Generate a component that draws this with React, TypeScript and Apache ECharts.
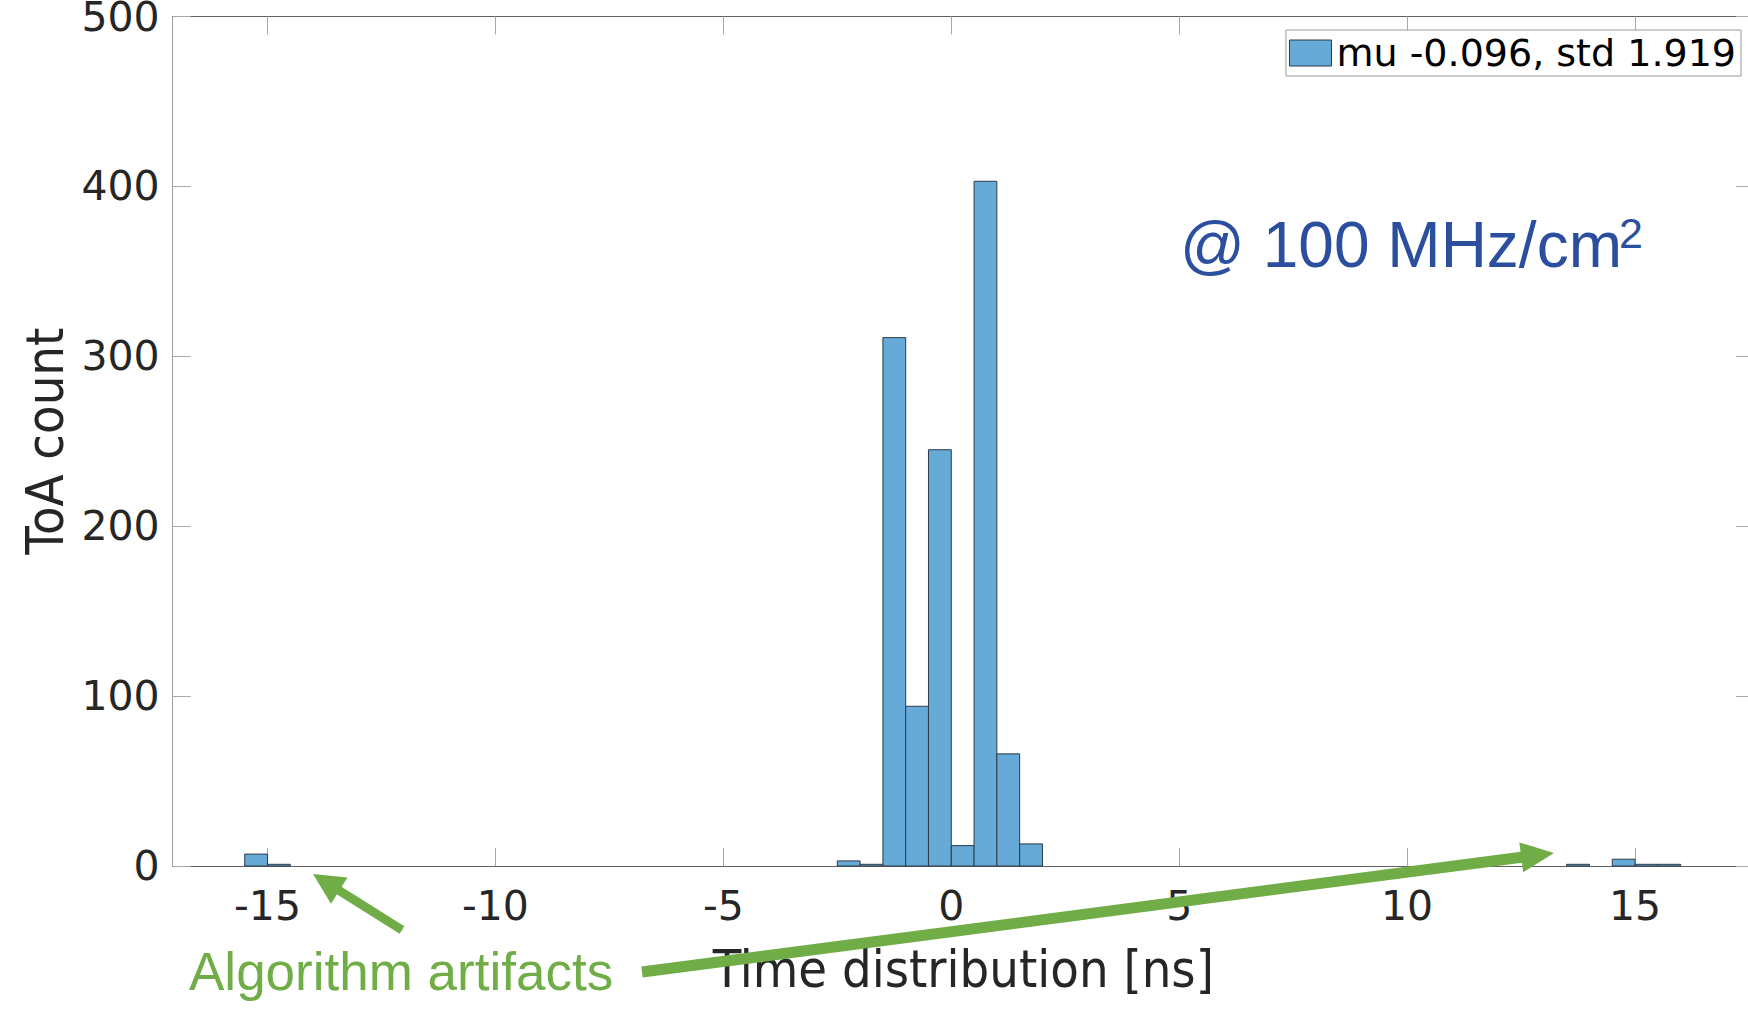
import React, { useEffect, useRef } from "react";
import * as echarts from "echarts";

// ---- data ----
const BIN_WIDTH = 0.5;
const binStarts = [-15.5, -15, -2.5, -2, -1.5, -1, -0.5, 0, 0.5, 1, 1.5, 13.5, 14.5, 15, 15.5];
const counts = [7, 1, 3, 1, 311, 94, 245, 12, 403, 66, 13, 1, 4, 1, 1];
const xTicks = [-15, -10, -5, 0, 5, 10, 15];
const yTicks = [0, 100, 200, 300, 400, 500];
const X_MIN = -17.08;
const X_MAX = 17.61;
const LEGEND_NAME = "mu -0.096, std 1.919";
const X_TITLE = "Time distribution [ns]";
const Y_TITLE = "ToA count";
const RATE_TEXT = "@ 100 MHz/cm";
const RATE_SUP = "2";
const ARTIFACT_TEXT = "Algorithm artifacts";

const BAR_FILL = "#66AAD7";
const BAR_EDGE = "#2e3b48";
const GREEN = "#70AD47";
const BLUE = "#2B4F9E";
const TICK_FONT = "'DejaVu Sans', sans-serif";
const TITLE_FONT = "'DejaVu Sans Condensed', 'DejaVu Sans', sans-serif";
const ARIAL = "'Liberation Sans', Arial, sans-serif";

function arrow(tail: number[], tip: number[], shaft: number, headLen: number, headW: number) {
  const dx = tip[0] - tail[0];
  const dy = tip[1] - tail[1];
  const len = Math.sqrt(dx * dx + dy * dy);
  const ux = dx / len, uy = dy / len;
  const nx = -uy, ny = ux;
  const bx = tip[0] - headLen * ux, by = tip[1] - headLen * uy;
  return [
    {
      type: "line",
      z: 100,
      shape: { x1: tail[0], y1: tail[1], x2: bx + ux * 2, y2: by + uy * 2 },
      style: { stroke: GREEN, lineWidth: shaft, lineCap: "butt" },
    },
    {
      type: "polygon",
      z: 100,
      shape: {
        points: [
          [tip[0], tip[1]],
          [bx + nx * headW / 2, by + ny * headW / 2],
          [bx - nx * headW / 2, by - ny * headW / 2],
        ],
      },
      style: { fill: GREEN },
    },
  ];
}

export default function App() {
  const ref = useRef<HTMLDivElement>(null);
  useEffect(() => {
    if (!ref.current) return;
    const chart = echarts.init(ref.current, null, { renderer: "svg" });
    const axisLineDark = { color: "#606060", width: 1 };
    const axisLineLight = { color: "#a0a0a0", width: 1 };
    const tickStyle = { color: "#a8a8a8", width: 1 };
    const option: any = {
      animation: false,
      backgroundColor: "#ffffff",
      grid: {
        left: 172.7,
        right: -6,
        top: 16.5,
        bottom: 149,
        containLabel: false,
        outerBoundsMode: "none",
      },
      legend: {
        show: true,
        data: [
          {
            name: LEGEND_NAME,
            icon: "rect",
            itemStyle: { color: BAR_FILL, borderColor: BAR_EDGE, borderWidth: 1 },
          },
        ],
        right: 7,
        top: 30,
        itemWidth: 42,
        itemHeight: 26,
        padding: [4, 5, 4, 3],
        borderColor: "#9a9a9a",
        borderWidth: 1,
        borderRadius: 0,
        backgroundColor: "#ffffff",
        selectedMode: false,
        textStyle: { fontSize: 38, fontFamily: TICK_FONT, color: "#000000", lineHeight: 26, height: 26 },
      },
      xAxis: [
        {
          type: "value",
          position: "bottom",
          min: X_MIN,
          max: X_MAX,
          axisLine: { show: true, onZero: false, lineStyle: axisLineDark },
          axisTick: { show: true, inside: true, length: 18, customValues: xTicks, lineStyle: tickStyle },
          axisLabel: {
            show: true,
            customValues: xTicks,
            margin: 19,
            fontSize: 41,
            fontFamily: TICK_FONT,
            color: "#262626",
          },
          splitLine: { show: false },
          name: X_TITLE,
          nameLocation: "middle",
          nameGap: 77,
          nameTextStyle: { fontSize: 52, fontFamily: TITLE_FONT, color: "#262626", lineHeight: 52 },
        },
        {
          type: "value",
          position: "top",
          min: X_MIN,
          max: X_MAX,
          axisLine: { show: true, onZero: false, lineStyle: axisLineDark },
          axisTick: { show: true, inside: true, length: 18, customValues: xTicks, lineStyle: tickStyle },
          axisLabel: { show: false, customValues: xTicks },
          splitLine: { show: false },
        },
      ],
      yAxis: [
        {
          type: "value",
          position: "left",
          min: 0,
          max: 500,
          interval: 100,
          axisLine: { show: true, onZero: false, lineStyle: axisLineLight },
          axisTick: { show: true, inside: true, length: 18, lineStyle: tickStyle },
          axisLabel: {
            show: true,
            margin: 13,
            fontSize: 41,
            fontFamily: TICK_FONT,
            color: "#262626",
            formatter: (v: number) => (yTicks.indexOf(v) >= 0 ? String(v) : ""),
          },
          splitLine: { show: false },
          name: Y_TITLE,
          nameLocation: "middle",
          nameGap: 96,
          nameTextStyle: { fontSize: 52, fontFamily: TITLE_FONT, color: "#262626", lineHeight: 52 },
        },
        {
          type: "value",
          position: "right",
          min: 0,
          max: 500,
          interval: 100,
          axisLine: { show: true, onZero: false, lineStyle: axisLineDark },
          axisTick: { show: true, inside: true, length: 18, lineStyle: tickStyle },
          axisLabel: { show: false },
          splitLine: { show: false },
        },
      ],
      series: [
        {
          type: "custom",
          name: LEGEND_NAME,
          xAxisIndex: 0,
          yAxisIndex: 0,
          clip: false,
          encode: { x: 0, y: 1 },
          data: binStarts.map((b, i) => [b, counts[i]]),
          itemStyle: { color: BAR_FILL, borderColor: BAR_EDGE, borderWidth: 1 },
          renderItem: (params: any, api: any) => {
            const x0 = api.value(0);
            const c = api.value(1);
            const pTop = api.coord([x0, c]);
            const pBot = api.coord([x0 + BIN_WIDTH, 0]);
            return {
              type: "rect",
              shape: { x: pTop[0], y: pTop[1], width: pBot[0] - pTop[0], height: pBot[1] - pTop[1] },
              style: { fill: BAR_FILL, stroke: BAR_EDGE, lineWidth: 1 },
            };
          },
        },
      ],
      graphic: [
        {
          type: "text",
          z: 100,
          x: 1180,
          y: 244.8,
          style: {
            text: RATE_TEXT,
            fill: BLUE,
            fontSize: 64,
            fontFamily: ARIAL,
            align: "left",
            verticalAlign: "middle",
          },
        },
        {
          type: "text",
          z: 100,
          x: 1619,
          y: 233,
          style: {
            text: RATE_SUP,
            fill: BLUE,
            fontSize: 43,
            fontFamily: ARIAL,
            align: "left",
            verticalAlign: "middle",
          },
        },
        {
          type: "text",
          z: 100,
          x: 189,
          y: 971.5,
          style: {
            text: ARTIFACT_TEXT,
            fill: GREEN,
            fontSize: 53,
            fontFamily: ARIAL,
            align: "left",
            verticalAlign: "middle",
          },
        },
        ...arrow([402, 930], [313, 874], 9, 31, 31),
        ...arrow([642, 972], [1554, 853], 11, 33, 30),
      ],
    };
    chart.setOption(option);
    return () => chart.dispose();
  }, []);
  return (
    <div
      ref={ref}
      style={{ position: "absolute", left: 0, top: 0, width: 1748, height: 1015, background: "#fff" }}
    />
  );
}
